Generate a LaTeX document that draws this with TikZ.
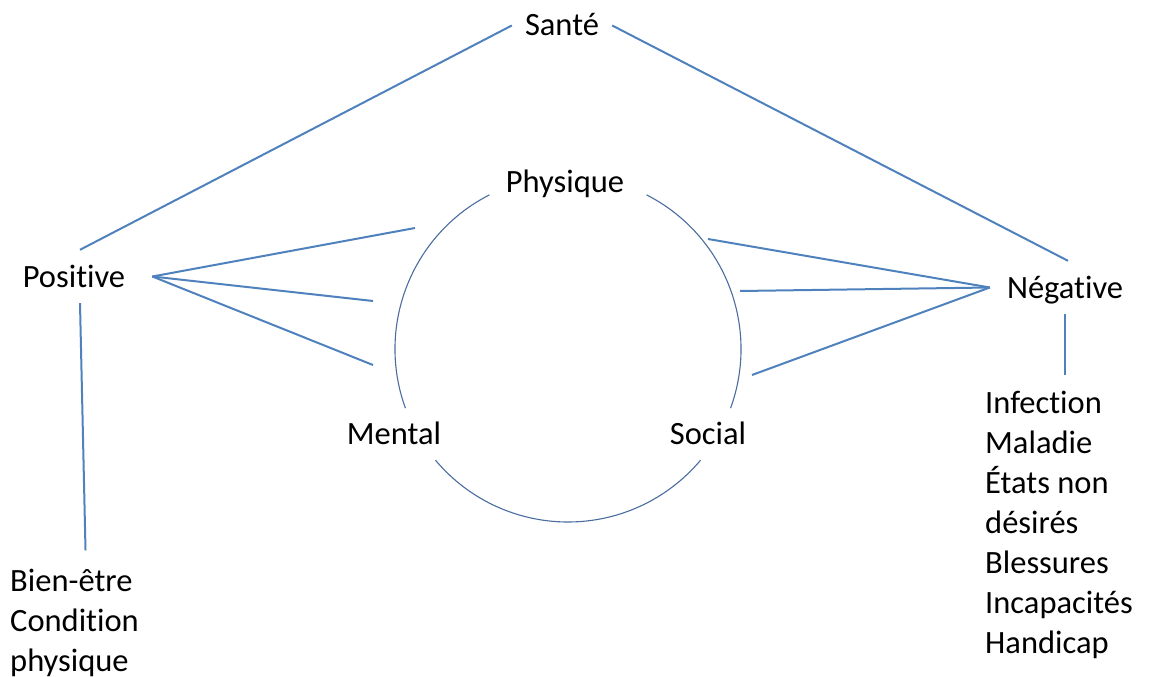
\documentclass[tikz,border=0pt]{standalone}
\usepackage{fontspec}
\setmainfont{Carlito}[Ligatures={NoCommon,NoContextual}]
\usepackage{tikz}
\usetikzlibrary{positioning,calc}

\definecolor{linkblue}{HTML}{4F81BD}
\definecolor{ringblue}{HTML}{4A6C9E}

\begin{document}
\begin{tikzpicture}[
    x=1pt, y=-1pt,
    term/.style={font=\fontsize{32.5}{40}\selectfont, text height=21pt, text depth=0pt,
      inner xsep=13pt, inner ysep=16pt},
    termlist/.style={font=\fontsize{32.5}{40}\selectfont, align=left, inner sep=0pt, anchor=base west},
    link/.style={draw=linkblue, line width=2pt},
    ring/.style={draw=ringblue, line width=1.1pt}
  ]
    \useasboundingbox (0,0) rectangle (1149,677);

    \node[term] (sante) at (562,25.5) {Santé};
    \node[term, inner xsep=27pt] (positive) at (74,276.5) {Positive};
    \node[term, inner xsep=17pt] (negative) at (1065,287.5) {Négative};
    \node[term] (physique) at (565,181.5) {Physique};
    \node[term] (mental) at (394,433.5) {Mental};
    \node[term] (social) at (708,433.5) {Social};

    % base anchor of a list is the baseline of its last line
    \node[termlist] (wellness) at (10,671) {Bien-être\\Condition\\physique};
    \node[termlist] (disorders) at (985,653) {Infection\\Maladie\\États non\\désirés\\Blessures\\Incapacités\\Handicap};

    % ring of the three dimensions
    \coordinate (hub) at (568,349);
    \draw[ring] (hub) ++(-63:173) arc[start angle=-63, end angle=20, radius=173];
    \draw[ring] (hub) ++(-117:173) arc[start angle=-117, end angle=-200, radius=173];
    \draw[ring] (hub) ++(140:173) arc[start angle=140, end angle=40, radius=173];

    % ends of the fans near the ring
    \coordinate (posA) at (415,228);
    \coordinate (posB) at (373,301);
    \coordinate (posC) at (373,365);
    \coordinate (negA) at (708,239);
    \coordinate (negB) at (740,291);
    \coordinate (negC) at (752,375);

    \draw[link] (sante.west) -- ([xshift=6pt]positive.north);
    \draw[link] (sante.east) -- ([xshift=3pt]negative.north);
    \foreach \p in {posA,posB,posC}
      \draw[link] (positive.east) -- (\p);
    \foreach \n in {negA,negB,negC}
      \draw[link] (negative.west) -- (\n);
    \draw[link] ([xshift=6pt]positive.south) -- ([xshift=11pt,yshift=18pt]wellness.north);
    \draw[link] (negative.south) -- ($(negative.south |- disorders.north)+(0,-15)$);
  \end{tikzpicture}
\end{document}
